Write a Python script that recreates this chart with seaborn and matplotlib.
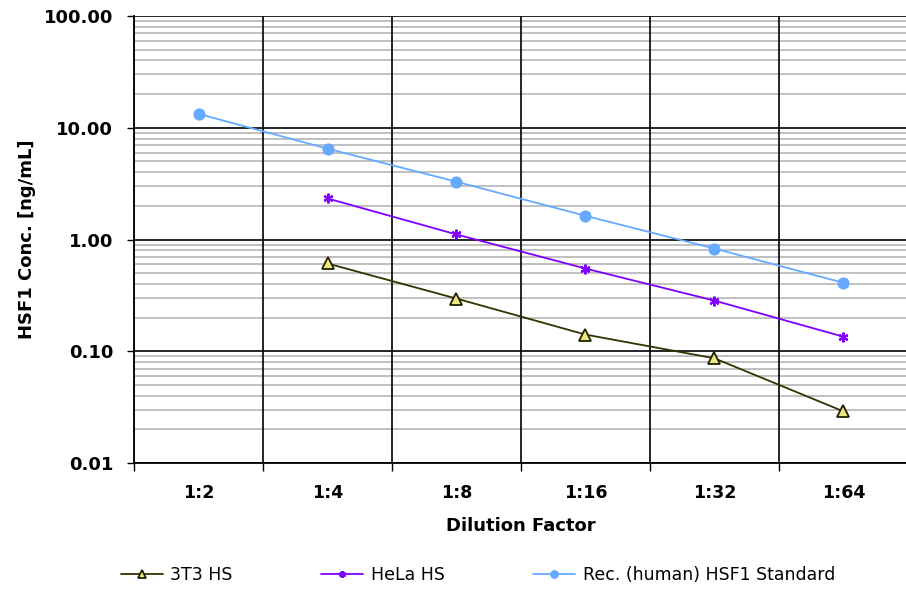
import matplotlib
matplotlib.use('Agg')
import matplotlib.pyplot as plt
from matplotlib.ticker import FixedLocator, FormatStrFormatter, LogLocator, NullFormatter
import numpy as np
import pandas as pd
import seaborn as sns

# DATA
dilutions = ['1:2', '1:4', '1:8', '1:16', '1:32', '1:64']
conc_3t3 = [np.nan, 0.61, 0.296, 0.141, 0.0865, 0.029]
conc_hela = [np.nan, 2.33, 1.11, 0.55, 0.284, 0.135]
conc_rec = [13.3, 6.5, 3.29, 1.63, 0.83, 0.41]

series_names = ['3T3 HS', 'HeLa HS', 'Rec. (human) HSF1 Standard']
series_values = [conc_3t3, conc_hela, conc_rec]
series_colors = ['#333300', '#8000ff', '#66aaff']
series_markers = ['^', 'X', 'o']

# build long table
rows = []
for name, vals in zip(series_names, series_values):
    for i, (d, v) in enumerate(zip(dilutions, vals)):
        rows.append({'Series': name, 'Pos': i, 'Dilution': d, 'Conc': v})
df = pd.DataFrame(rows).dropna()

# PLOT
sns.set_style('white')
plt.rcParams['font.family'] = ['DejaVu Sans']
plt.rcParams['text.color'] = 'black'
plt.rcParams['axes.labelcolor'] = 'black'
plt.rcParams['xtick.color'] = 'black'
plt.rcParams['ytick.color'] = 'black'

fig = plt.figure(figsize=(9.06, 5.91), dpi=100)
ax = fig.add_axes([0.148, 0.2166, 0.854, 0.7563])

for name, color, marker in zip(series_names, series_colors, series_markers):
    sub = df[df['Series'] == name]
    kw = dict(marker=marker, markersize=8, markeredgecolor=color, markerfacecolor=color)
    if name == '3T3 HS':
        kw.update(markerfacecolor='#eee680', markeredgecolor='#222200', markeredgewidth=1.3, markersize=9)
    if name == 'HeLa HS':
        kw.update(marker=(6, 2, 0), markersize=7, markeredgewidth=1.6)
    sns.lineplot(data=sub, x='Pos', y='Conc', ax=ax, color=color, linewidth=1.3,
                 label=name, sort=False, zorder=3, **kw)

ax.set_yscale('log')
ax.set_ylim(0.01, 100)
ax.set_xlim(-0.5, len(dilutions) - 0.5)

# y ticks / grid
ax.yaxis.set_major_locator(LogLocator(base=10))
ax.yaxis.set_minor_locator(LogLocator(base=10, subs=np.arange(2, 10)))
ax.yaxis.set_major_formatter(FormatStrFormatter('%.2f'))
ax.yaxis.set_minor_formatter(NullFormatter())
ax.grid(True, which='minor', axis='y', color='#c0c0c0', linewidth=1.4)
ax.grid(True, which='major', axis='y', color='black', linewidth=1.2)

# x ticks: labels at category centres, tick marks + vertical grid at boundaries
ax.set_xticks(range(len(dilutions)))
ax.set_xticklabels(dilutions)
ax.xaxis.set_minor_locator(FixedLocator(np.arange(-0.5, len(dilutions), 1.0)))
ax.grid(True, which='minor', axis='x', color='black', linewidth=1.2)
ax.tick_params(axis='x', which='major', length=0, pad=15, labelsize=12.5)
ax.tick_params(axis='x', which='minor', length=6, width=1.0, color='black', bottom=True)
ax.tick_params(axis='y', which='major', length=5, width=1.0, color='black', left=True, labelsize=13, pad=10)
ax.tick_params(axis='y', which='minor', length=0)
for lbl in ax.get_xticklabels() + ax.get_yticklabels():
    lbl.set_fontweight('bold')

ax.set_axisbelow(True)
# y axis (horizontal grid) drawn first so the black vertical grid sits on top
ax.yaxis.set_zorder(0.4)
for side in ['top', 'right']:
    ax.spines[side].set_visible(False)
for side in ['left', 'bottom']:
    ax.spines[side].set_color('black')
    ax.spines[side].set_linewidth(1.3)

ax.set_xlabel('Dilution Factor', fontsize=13, fontweight='bold', labelpad=11)
ax.set_ylabel('HSF1 Conc. [ng/mL]', fontsize=13, fontweight='bold', labelpad=6)

handles, labels = ax.get_legend_handles_labels()
ax.get_legend().remove()
fig.legend(handles, labels, loc='lower center', bbox_to_anchor=(0.5276, -0.014), ncol=3,
           frameon=False, fontsize=12.5, columnspacing=5.1, handlelength=2.4,
           handletextpad=0.45, markerscale=0.7)

fig.savefig('out.png', dpi=100)
